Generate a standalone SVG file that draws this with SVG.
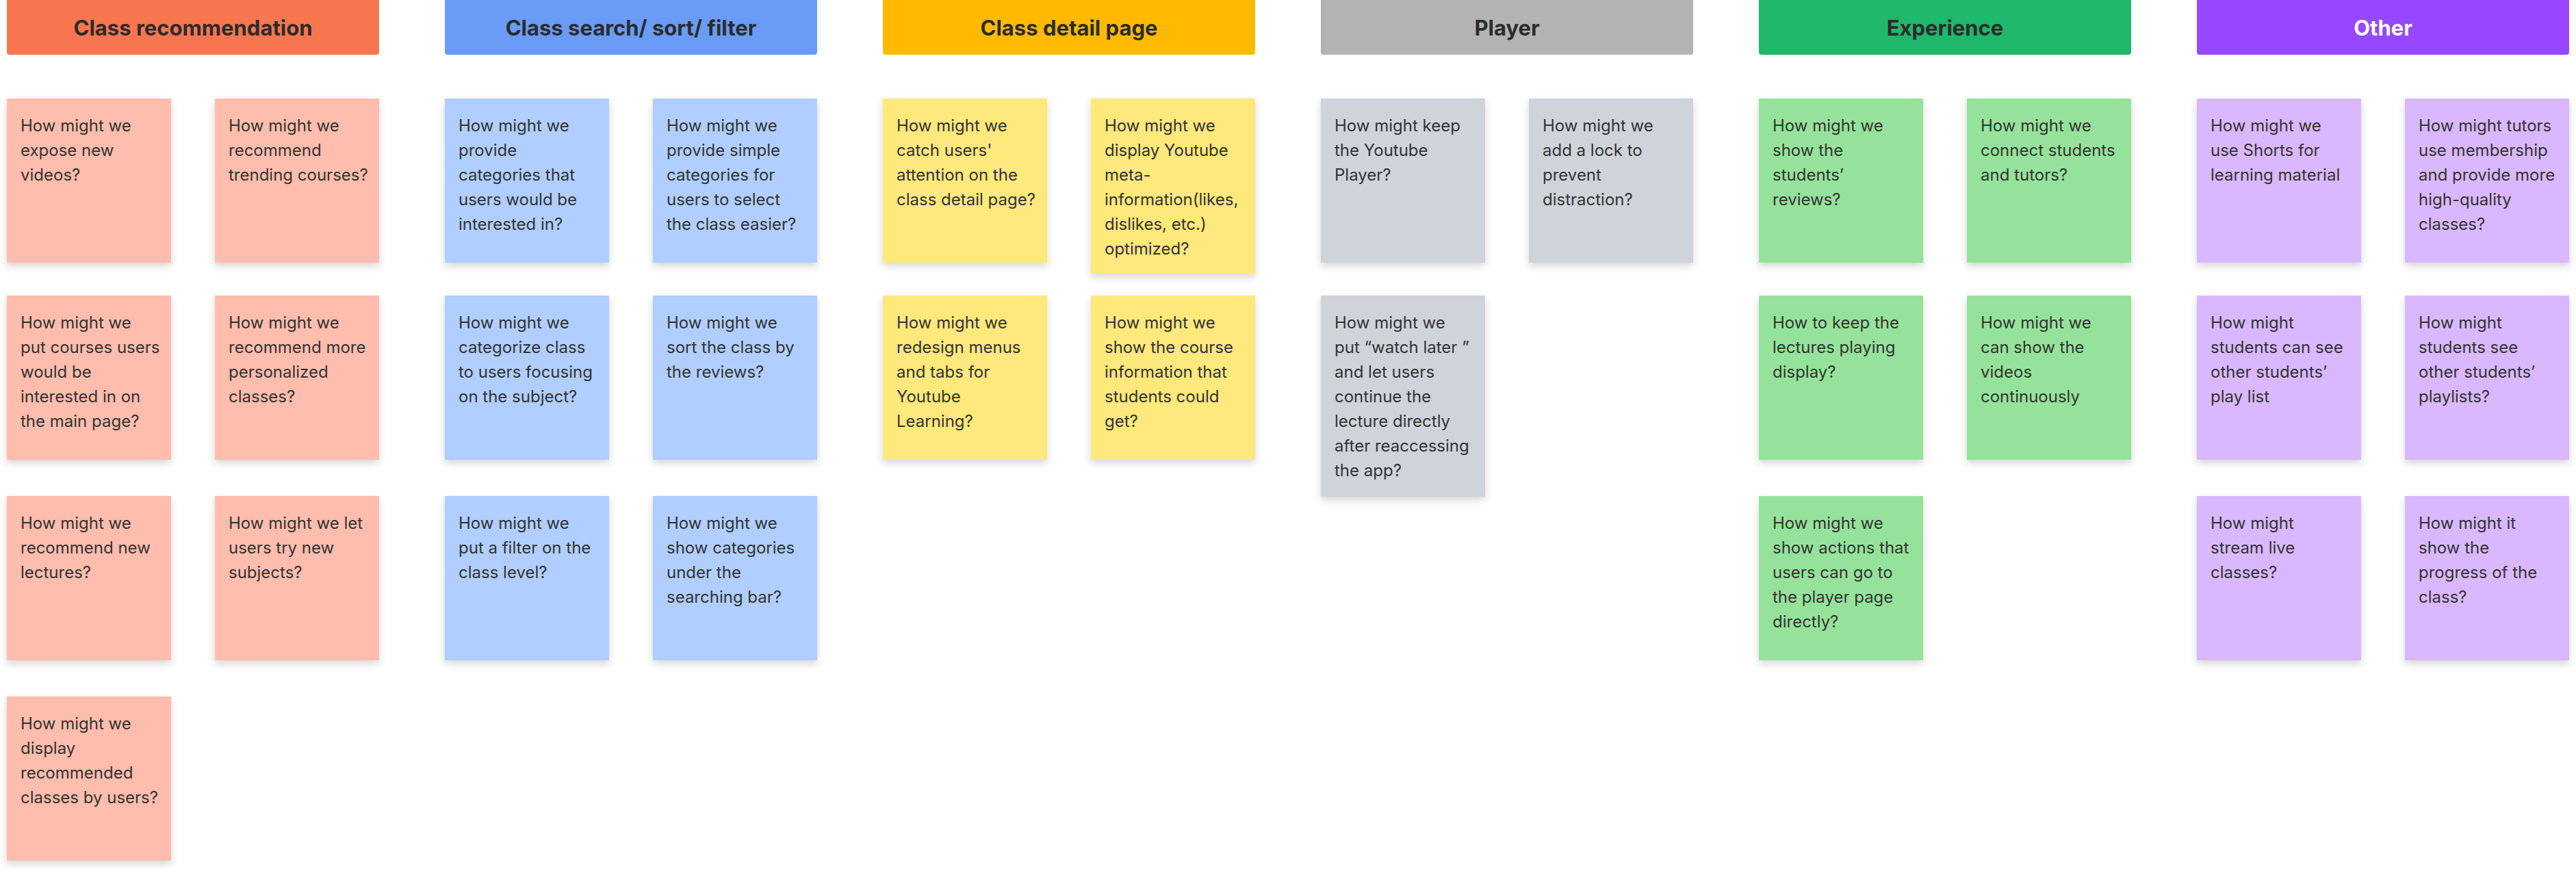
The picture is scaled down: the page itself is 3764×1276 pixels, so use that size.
<svg xmlns="http://www.w3.org/2000/svg" width="3764" height="1276" viewBox="0 0 3764 1276">
<defs>
<filter id="sh" x="-20%" y="-20%" width="140%" height="140%">
<feDropShadow dx="0" dy="5" stdDeviation="6" flood-color="#000" flood-opacity="0.16"/>
</filter>
<style>
.hd{font-family:Inter,"Liberation Sans",sans-serif;font-size:31px;font-weight:700;fill:#2b2b2b;text-anchor:middle}
.hdw{fill:#ffffff}
.tx{font-family:Inter,"Liberation Sans",sans-serif;font-size:24px;fill:#333333}
.c1h{fill:#F8764F}.c2h{fill:#699BF7}.c3h{fill:#FFBA00}.c4h{fill:#B3B3B3}.c5h{fill:#1FB76A}.c6h{fill:#9747FF}
.c1{fill:#FFBDAD}.c2{fill:#B0CEFF}.c3{fill:#FFE87C}.c4{fill:#CFD3DA}.c5{fill:#95E39A}.c6{fill:#D9B8FF}
.st{filter:url(#sh)}
</style>
</defs>
<rect width="3764" height="1276" fill="#ffffff"/>

<!-- Headers -->
<g id="h-class-recommendation"><rect class="c1h" x="10" y="-4" width="544" height="84" rx="4"/><text class="hd" x="282" y="52">Class recommendation</text></g>
<g id="h-class-search"><rect class="c2h" x="650" y="-4" width="544" height="84" rx="4"/><text class="hd" x="922" y="52">Class search/ sort/ filter</text></g>
<g id="h-class-detail"><rect class="c3h" x="1290" y="-4" width="544" height="84" rx="4"/><text class="hd" x="1562" y="52">Class detail page</text></g>
<g id="h-player"><rect class="c4h" x="1930" y="-4" width="544" height="84" rx="4"/><text class="hd" x="2202" y="52">Player</text></g>
<g id="h-experience"><rect class="c5h" x="2570" y="-4" width="544" height="84" rx="4"/><text class="hd" x="2842" y="52">Experience</text></g>
<g id="h-other"><rect class="c6h" x="3210" y="-4" width="544" height="84" rx="4"/><text class="hd hdw" x="3482" y="52">Other</text></g>

<g id="connectors"></g>

<!-- Group 1 -->
<g id="n1a1"><rect class="c1 st" x="10" y="144" width="240" height="240"/><text class="tx" x="30" y="192"><tspan x="30">How might we</tspan><tspan x="30" dy="36">expose new</tspan><tspan x="30" dy="36">videos?</tspan></text></g>
<g id="n1a2"><rect class="c1 st" x="10" y="432" width="240" height="240"/><text class="tx" x="30" y="480"><tspan x="30">How might we</tspan><tspan x="30" dy="36">put courses users</tspan><tspan x="30" dy="36">would be</tspan><tspan x="30" dy="36">interested in on</tspan><tspan x="30" dy="36">the main page?</tspan></text></g>
<g id="n1a3"><rect class="c1 st" x="10" y="725" width="240" height="240"/><text class="tx" x="30" y="773"><tspan x="30">How might we</tspan><tspan x="30" dy="36">recommend new</tspan><tspan x="30" dy="36">lectures?</tspan></text></g>
<g id="n1a4"><rect class="c1 st" x="10" y="1018" width="240" height="240"/><text class="tx" x="30" y="1066"><tspan x="30">How might we</tspan><tspan x="30" dy="36">display</tspan><tspan x="30" dy="36">recommended</tspan><tspan x="30" dy="36">classes by users?</tspan></text></g>
<g id="n1b1"><rect class="c1 st" x="314" y="144" width="240" height="240"/><text class="tx" x="334" y="192"><tspan x="334">How might we</tspan><tspan x="334" dy="36">recommend</tspan><tspan x="334" dy="36">trending courses?</tspan></text></g>
<g id="n1b2"><rect class="c1 st" x="314" y="432" width="240" height="240"/><text class="tx" x="334" y="480"><tspan x="334">How might we</tspan><tspan x="334" dy="36">recommend more</tspan><tspan x="334" dy="36">personalized</tspan><tspan x="334" dy="36">classes?</tspan></text></g>
<g id="n1b3"><rect class="c1 st" x="314" y="725" width="240" height="240"/><text class="tx" x="334" y="773"><tspan x="334">How might we let</tspan><tspan x="334" dy="36">users try new</tspan><tspan x="334" dy="36">subjects?</tspan></text></g>

<!-- Group 2 -->
<g id="n2a1"><rect class="c2 st" x="650" y="144" width="240" height="240"/><text class="tx" x="670" y="192"><tspan x="670">How might we</tspan><tspan x="670" dy="36">provide</tspan><tspan x="670" dy="36">categories that</tspan><tspan x="670" dy="36">users would be</tspan><tspan x="670" dy="36">interested in?</tspan></text></g>
<g id="n2a2"><rect class="c2 st" x="650" y="432" width="240" height="240"/><text class="tx" x="670" y="480"><tspan x="670">How might we</tspan><tspan x="670" dy="36">categorize class</tspan><tspan x="670" dy="36">to users focusing</tspan><tspan x="670" dy="36">on the subject?</tspan></text></g>
<g id="n2a3"><rect class="c2 st" x="650" y="725" width="240" height="240"/><text class="tx" x="670" y="773"><tspan x="670">How might we</tspan><tspan x="670" dy="36">put a filter on the</tspan><tspan x="670" dy="36">class level?</tspan></text></g>
<g id="n2b1"><rect class="c2 st" x="954" y="144" width="240" height="240"/><text class="tx" x="974" y="192"><tspan x="974">How might we</tspan><tspan x="974" dy="36">provide simple</tspan><tspan x="974" dy="36">categories for</tspan><tspan x="974" dy="36">users to select</tspan><tspan x="974" dy="36">the class easier?</tspan></text></g>
<g id="n2b2"><rect class="c2 st" x="954" y="432" width="240" height="240"/><text class="tx" x="974" y="480"><tspan x="974">How might we</tspan><tspan x="974" dy="36">sort the class by</tspan><tspan x="974" dy="36">the reviews?</tspan></text></g>
<g id="n2b3"><rect class="c2 st" x="954" y="725" width="240" height="240"/><text class="tx" x="974" y="773"><tspan x="974">How might we</tspan><tspan x="974" dy="36">show categories</tspan><tspan x="974" dy="36">under the</tspan><tspan x="974" dy="36">searching bar?</tspan></text></g>

<!-- Group 3 -->
<g id="n3a1"><rect class="c3 st" x="1290" y="144" width="240" height="240"/><text class="tx" x="1310" y="192"><tspan x="1310">How might we</tspan><tspan x="1310" dy="36">catch users'</tspan><tspan x="1310" dy="36">attention on the</tspan><tspan x="1310" dy="36">class detail page?</tspan></text></g>
<g id="n3a2"><rect class="c3 st" x="1290" y="432" width="240" height="240"/><text class="tx" x="1310" y="480"><tspan x="1310">How might we</tspan><tspan x="1310" dy="36">redesign menus</tspan><tspan x="1310" dy="36">and tabs for</tspan><tspan x="1310" dy="36">Youtube</tspan><tspan x="1310" dy="36">Learning?</tspan></text></g>
<g id="n3b1"><rect class="c3 st" x="1594" y="144" width="240" height="256"/><text class="tx" x="1614" y="192"><tspan x="1614">How might we</tspan><tspan x="1614" dy="36">display Youtube</tspan><tspan x="1614" dy="36">meta-</tspan><tspan x="1614" dy="36">information(likes,</tspan><tspan x="1614" dy="36">dislikes, etc.)</tspan><tspan x="1614" dy="36">optimized?</tspan></text></g>
<g id="n3b2"><rect class="c3 st" x="1594" y="432" width="240" height="240"/><text class="tx" x="1614" y="480"><tspan x="1614">How might we</tspan><tspan x="1614" dy="36">show the course</tspan><tspan x="1614" dy="36">information that</tspan><tspan x="1614" dy="36">students could</tspan><tspan x="1614" dy="36">get?</tspan></text></g>

<!-- Group 4 -->
<g id="n4a1"><rect class="c4 st" x="1930" y="144" width="240" height="240"/><text class="tx" x="1950" y="192"><tspan x="1950">How might keep</tspan><tspan x="1950" dy="36">the Youtube</tspan><tspan x="1950" dy="36">Player?</tspan></text></g>
<g id="n4a2"><rect class="c4 st" x="1930" y="432" width="240" height="294"/><text class="tx" x="1950" y="480"><tspan x="1950">How might we</tspan><tspan x="1950" dy="36">put “watch later ”</tspan><tspan x="1950" dy="36">and let users</tspan><tspan x="1950" dy="36">continue the</tspan><tspan x="1950" dy="36">lecture directly</tspan><tspan x="1950" dy="36">after reaccessing</tspan><tspan x="1950" dy="36">the app?</tspan></text></g>
<g id="n4b1"><rect class="c4 st" x="2234" y="144" width="240" height="240"/><text class="tx" x="2254" y="192"><tspan x="2254">How might we</tspan><tspan x="2254" dy="36">add a lock to</tspan><tspan x="2254" dy="36">prevent</tspan><tspan x="2254" dy="36">distraction?</tspan></text></g>

<!-- Group 5 -->
<g id="n5a1"><rect class="c5 st" x="2570" y="144" width="240" height="240"/><text class="tx" x="2590" y="192"><tspan x="2590">How might we</tspan><tspan x="2590" dy="36">show the</tspan><tspan x="2590" dy="36">students’</tspan><tspan x="2590" dy="36">reviews?</tspan></text></g>
<g id="n5a2"><rect class="c5 st" x="2570" y="432" width="240" height="240"/><text class="tx" x="2590" y="480"><tspan x="2590">How to keep the</tspan><tspan x="2590" dy="36">lectures playing</tspan><tspan x="2590" dy="36">display?</tspan></text></g>
<g id="n5a3"><rect class="c5 st" x="2570" y="725" width="240" height="240"/><text class="tx" x="2590" y="773"><tspan x="2590">How might we</tspan><tspan x="2590" dy="36">show actions that</tspan><tspan x="2590" dy="36">users can go to</tspan><tspan x="2590" dy="36">the player page</tspan><tspan x="2590" dy="36">directly?</tspan></text></g>
<g id="n5b1"><rect class="c5 st" x="2874" y="144" width="240" height="240"/><text class="tx" x="2894" y="192"><tspan x="2894">How might we</tspan><tspan x="2894" dy="36">connect students</tspan><tspan x="2894" dy="36">and tutors?</tspan></text></g>
<g id="n5b2"><rect class="c5 st" x="2874" y="432" width="240" height="240"/><text class="tx" x="2894" y="480"><tspan x="2894">How might we</tspan><tspan x="2894" dy="36">can show the</tspan><tspan x="2894" dy="36">videos</tspan><tspan x="2894" dy="36">continuously</tspan></text></g>

<!-- Group 6 -->
<g id="n6a1"><rect class="c6 st" x="3210" y="144" width="240" height="240"/><text class="tx" x="3230" y="192"><tspan x="3230">How might we</tspan><tspan x="3230" dy="36">use Shorts for</tspan><tspan x="3230" dy="36">learning material</tspan></text></g>
<g id="n6a2"><rect class="c6 st" x="3210" y="432" width="240" height="240"/><text class="tx" x="3230" y="480"><tspan x="3230">How might</tspan><tspan x="3230" dy="36">students can see</tspan><tspan x="3230" dy="36">other students’</tspan><tspan x="3230" dy="36">play list</tspan></text></g>
<g id="n6a3"><rect class="c6 st" x="3210" y="725" width="240" height="240"/><text class="tx" x="3230" y="773"><tspan x="3230">How might</tspan><tspan x="3230" dy="36">stream live</tspan><tspan x="3230" dy="36">classes?</tspan></text></g>
<g id="n6b1"><rect class="c6 st" x="3514" y="144" width="240" height="240"/><text class="tx" x="3534" y="192"><tspan x="3534">How might tutors</tspan><tspan x="3534" dy="36">use membership</tspan><tspan x="3534" dy="36">and provide more</tspan><tspan x="3534" dy="36">high-quality</tspan><tspan x="3534" dy="36">classes?</tspan></text></g>
<g id="n6b2"><rect class="c6 st" x="3514" y="432" width="240" height="240"/><text class="tx" x="3534" y="480"><tspan x="3534">How might</tspan><tspan x="3534" dy="36">students see</tspan><tspan x="3534" dy="36">other students’</tspan><tspan x="3534" dy="36">playlists?</tspan></text></g>
<g id="n6b3"><rect class="c6 st" x="3514" y="725" width="240" height="240"/><text class="tx" x="3534" y="773"><tspan x="3534">How might it</tspan><tspan x="3534" dy="36">show the</tspan><tspan x="3534" dy="36">progress of the</tspan><tspan x="3534" dy="36">class?</tspan></text></g>
</svg>
